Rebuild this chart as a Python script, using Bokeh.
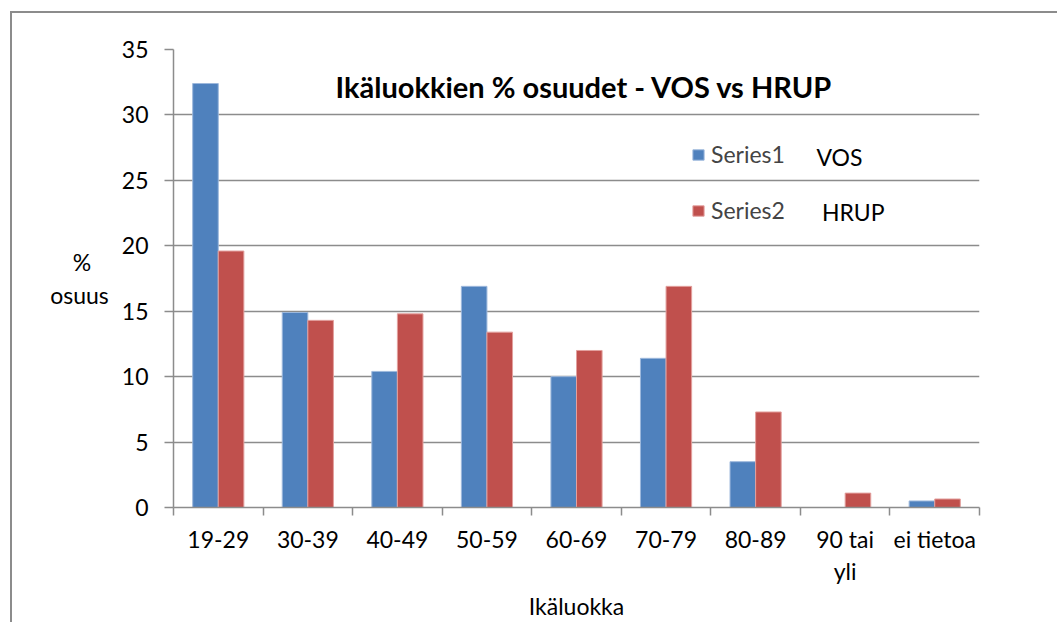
from bokeh.plotting import figure
from bokeh.models import Range1d, FixedTicker, Legend, LegendItem, Label, ColumnDataSource
from bokeh.transform import dodge
from bokeh.embed import file_html
from bokeh.resources import INLINE

categories = ["19-29", "30-39", "40-49", "50-59", "60-69", "70-79", "80-89", "90 tai\nyli", "ei tietoa"]
vos = [32.4, 14.9, 10.4, 16.9, 10.0, 11.4, 3.5, 0.0, 0.5]
hrup = [19.6, 14.3, 14.8, 13.4, 12.0, 16.9, 7.3, 1.1, 0.65]
series_names = ["Series1", "Series2"]
series_tags = ["VOS", "HRUP"]
y_ticks = [0, 5, 10, 15, 20, 25, 30, 35]

FONT = "Lato"
GRAY = "#8c8c8c"
BLUE = "#4F81BD"
RED = "#C0504D"

pos = [i + 0.5 for i in range(len(categories))]
src = ColumnDataSource(dict(x=pos, vos=vos, hrup=hrup))

p = figure(width=1047, height=611, output_backend="svg", toolbar_location=None,
           x_range=Range1d(0, len(categories)), y_range=Range1d(0, 35),
           min_border_left=161, min_border_top=36, min_border_right=80, min_border_bottom=117)
p.margin = (11, 0, 0, 10)
p.styles = {"border-left": "2px solid #8c8c8c", "border-top": "2px solid #8c8c8c"}
p.outline_line_color = None

bw = 1 / 3.5
r1 = p.vbar(x=dodge("x", -bw / 2, range=p.x_range), top="vos", width=bw, source=src,
            fill_color=BLUE, line_color="#9db8dc", line_width=1)
r2 = p.vbar(x=dodge("x", bw / 2, range=p.x_range), top="hrup", width=bw, source=src,
            fill_color=RED, line_color="#e3a09e", line_width=1)

# x axis
xa = p.xaxis[0]
xa.ticker = FixedTicker(ticks=pos, minor_ticks=list(range(len(categories) + 1)))
xa.major_label_overrides = {x: c for x, c in zip(pos, categories)}
xa.major_tick_out = 0
xa.major_tick_in = 0
xa.minor_tick_out = 8
xa.minor_tick_in = 0
xa.minor_tick_line_color = GRAY
xa.minor_tick_line_width = 1.5
xa.axis_line_color = GRAY
xa.axis_line_width = 1.5
xa.major_label_text_font = FONT
xa.major_label_text_font_size = "23px"
xa.major_label_text_color = "black"
xa.major_label_text_line_height = 1.17
xa.major_label_standoff = 9
xa.axis_label = "Ikäluokka"
xa.axis_label_text_font = FONT
xa.axis_label_text_font_size = "23px"
xa.axis_label_text_font_style = "normal"
xa.axis_label_text_color = "black"
xa.axis_label_standoff = 4

# y axis
ya = p.yaxis[0]
ya.ticker = FixedTicker(ticks=y_ticks)
ya.major_tick_out = 9
ya.major_tick_in = 0
ya.minor_tick_line_color = None
ya.major_tick_line_color = GRAY
ya.major_tick_line_width = 1.5
ya.axis_line_color = GRAY
ya.axis_line_width = 1.5
ya.major_label_text_font = FONT
ya.major_label_text_font_size = "23px"
ya.major_label_text_color = "black"
ya.major_label_standoff = 16
# trailing no-break spaces centre the "%" over "osuus" (lines are right-aligned)
ya.axis_label = "%\u00a0\u00a0\u00a0\nosuus"
ya.axis_label_orientation = "horizontal"
ya.axis_label_text_font = FONT
ya.axis_label_text_font_size = "23px"
ya.axis_label_text_font_style = "normal"
ya.axis_label_text_color = "black"
ya.axis_label_text_line_height = 1.2
ya.axis_label_standoff = 10

p.xgrid.visible = False
p.ygrid.ticker = FixedTicker(ticks=y_ticks)
p.ygrid.grid_line_color = GRAY
p.ygrid.grid_line_width = 1.5

# title inside plot
p.add_layout(Label(x=4.587, y=32.2, text="Ikäluokkien % osuudet - VOS vs HRUP",
                   text_font=FONT, text_font_size="29px", text_font_style="bold",
                   text_align="center", text_baseline="middle", text_color="black"))

# legend
legend = Legend(items=[LegendItem(label=series_names[0], renderers=[r1]),
                       LegendItem(label=series_names[1], renderers=[r2])],
                location=(518, 283), orientation="vertical",
                glyph_width=14, glyph_height=13, label_standoff=6,
                label_text_font=FONT, label_text_font_size="23px", label_height=20,
                spacing=28, padding=0, margin=0,
                border_line_color=None, background_fill_alpha=0)
p.add_layout(legend)

p.add_layout(Label(x=7.18, y=26.75, text=series_tags[0], text_font=FONT,
                   text_font_size="23px", text_baseline="middle", text_color="black"))
p.add_layout(Label(x=7.24, y=22.6, text=series_tags[1], text_font=FONT,
                   text_font_size="23px", text_baseline="middle", text_color="black"))

open("out.html", "w").write(file_html(p, INLINE))
